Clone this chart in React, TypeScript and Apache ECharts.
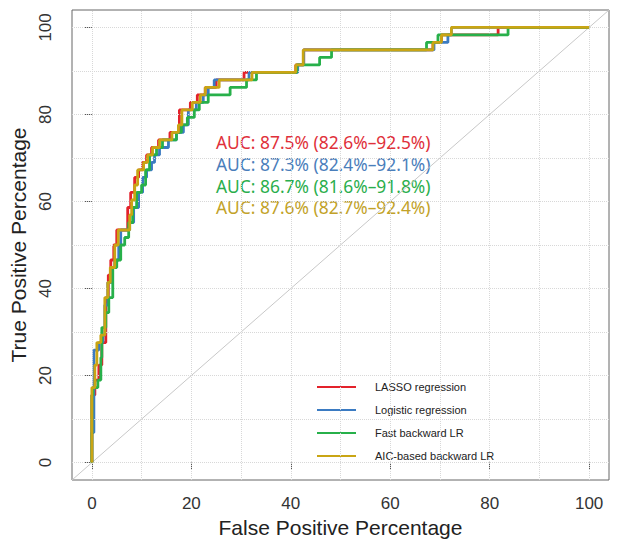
import React, { useEffect, useRef } from "react";
import * as echarts from "echarts";

const seriesNames = [
  "LASSO regression",
  "Logistic regression",
  "Fast backward LR",
  "AIC-based backward LR",
];
const seriesColors = ["#E3222B", "#3B7BC2", "#27B04A", "#C9A514"];
const aucColors = ["#E0303A", "#4A7EBB", "#2AAE4C", "#C2A228"];

const aucLabels = [
  "AUC: 87.5% (82.6%–92.5%)",
  "AUC: 87.3% (82.4%–92.1%)",
  "AUC: 86.7% (81.6%–91.8%)",
  "AUC: 87.6% (82.7%–92.4%)",
];

const lassoROC = [
  [0, 0], [0, 15.52], [0.6, 15.52], [0.6, 18.97], [1.4, 18.97], [1.4, 22.41], [2.0, 22.41],
  [2.0, 27.59], [2.8, 27.59], [2.8, 37.93], [3.3, 37.93], [3.3, 43.1], [3.8, 43.1], [3.8, 46.55],
  [4.4, 46.55], [4.4, 50.0], [5.0, 50.0], [5.0, 53.45], [7.2, 53.45], [7.2, 58.62], [7.8, 58.62],
  [7.8, 62.07], [8.6, 62.07], [8.6, 65.52], [9.4, 65.52], [9.4, 67.24], [10.2, 67.24], [10.2, 68.97],
  [11.0, 68.97], [11.0, 70.69], [12.0, 70.69], [12.0, 72.41], [13.4, 72.41], [13.4, 74.14],
  [15.7, 74.14], [15.7, 75.86], [17.6, 75.86], [17.6, 81.03], [19.8, 81.03], [19.8, 82.76],
  [21.2, 82.76], [21.2, 84.48], [22.8, 84.48], [22.8, 86.21], [25.0, 86.21], [25.0, 87.93],
  [30.6, 87.93], [30.6, 89.66], [41.0, 89.66], [41.0, 91.38], [42.6, 91.38], [42.6, 94.83],
  [68.6, 94.83], [68.6, 96.55], [70.3, 96.55], [70.3, 98.28], [81.7, 98.28], [81.7, 100], [100, 100],
];

const logisticROC = [
  [0, 0], [0, 6.9], [0.4, 6.9], [0.4, 25.86], [1.4, 25.86], [1.4, 27.59], [2.2, 27.59], [2.2, 29.31],
  [2.6, 29.31], [2.6, 36.21], [3.2, 36.21], [3.2, 41.38], [3.9, 41.38], [3.9, 44.83], [4.6, 44.83],
  [4.6, 46.55], [5.4, 46.55], [5.4, 50.0], [5.8, 50.0], [5.8, 53.45], [7.6, 53.45], [7.6, 55.17],
  [8.4, 55.17], [8.4, 58.62], [9.4, 58.62], [9.4, 62.07], [10.2, 62.07], [10.2, 65.52], [11.0, 65.52],
  [11.0, 67.24], [12.0, 67.24], [12.0, 68.97], [12.6, 68.97], [12.6, 70.69], [13.6, 70.69],
  [13.6, 72.41], [15.4, 72.41], [15.4, 74.14], [17.0, 74.14], [17.0, 75.86], [18.4, 75.86],
  [18.4, 77.59], [19.4, 77.59], [19.4, 81.03], [21.0, 81.03], [21.0, 82.76], [22.4, 82.76],
  [22.4, 84.48], [23.4, 84.48], [23.4, 86.21], [24.6, 86.21], [24.6, 87.93], [31.6, 87.93],
  [31.6, 89.66], [41.4, 89.66], [41.4, 91.38], [42.6, 91.38], [42.6, 94.83], [68.8, 94.83],
  [68.8, 96.55], [71.6, 96.55], [71.6, 98.28], [72.3, 98.28], [72.3, 100], [100, 100],
];

const fastBackwardROC = [
  [0, 0], [0, 15.52], [0.2, 15.52], [0.2, 17.24], [1.2, 17.24], [1.2, 18.97], [1.8, 18.97],
  [1.8, 24.14], [2.0, 24.14], [2.0, 31.03], [2.8, 31.03], [2.8, 34.48], [3.4, 34.48], [3.4, 37.93],
  [4.2, 37.93], [4.2, 44.83], [5.0, 44.83], [5.0, 46.55], [5.8, 46.55], [5.8, 50.0], [6.6, 50.0],
  [6.6, 51.72], [7.4, 51.72], [7.4, 55.17], [8.2, 55.17], [8.2, 58.62], [9.0, 58.62], [9.0, 62.07],
  [10.0, 62.07], [10.0, 63.79], [10.8, 63.79], [10.8, 67.24], [11.6, 67.24], [11.6, 70.69],
  [13.0, 70.69], [13.0, 72.41], [14.2, 72.41], [14.2, 74.14], [17.0, 74.14], [17.0, 75.86],
  [18.0, 75.86], [18.0, 77.59], [19.2, 77.59], [19.2, 79.31], [20.6, 79.31], [20.6, 81.03],
  [21.6, 81.03], [21.6, 82.76], [23.4, 82.76], [23.4, 84.48], [27.8, 84.48], [27.8, 86.21],
  [31.1, 86.21], [31.1, 87.93], [33.1, 87.93], [33.1, 89.66], [41.2, 89.66], [41.2, 91.38],
  [45.8, 91.38], [45.8, 93.1], [48.2, 93.1], [48.2, 94.83], [67.3, 94.83], [67.3, 96.55],
  [69.6, 96.55], [69.6, 98.28], [83.7, 98.28], [83.7, 100], [100, 100],
];

const aicBackwardROC = [
  [0, 0], [0, 17.24], [0.6, 17.24], [0.6, 22.41], [1.0, 22.41], [1.0, 27.59], [1.8, 27.59],
  [1.8, 29.31], [2.6, 29.31], [2.6, 37.93], [3.2, 37.93], [3.2, 41.38], [3.7, 41.38], [3.7, 44.83],
  [4.6, 44.83], [4.6, 50.0], [5.3, 50.0], [5.3, 53.45], [7.6, 53.45], [7.6, 56.9], [8.0, 56.9],
  [8.0, 60.34], [8.6, 60.34], [8.6, 63.79], [9.2, 63.79], [9.2, 67.24], [10.4, 67.24], [10.4, 68.97],
  [11.2, 68.97], [11.2, 70.69], [12.2, 70.69], [12.2, 72.41], [13.6, 72.41], [13.6, 74.14],
  [16.1, 74.14], [16.1, 75.86], [17.4, 75.86], [17.4, 77.59], [18.1, 77.59], [18.1, 81.03],
  [20.2, 81.03], [20.2, 82.76], [21.8, 82.76], [21.8, 84.48], [22.8, 84.48], [22.8, 86.21],
  [25.6, 86.21], [25.6, 87.93], [32.2, 87.93], [32.2, 89.66], [41.0, 89.66], [41.0, 91.38],
  [42.5, 91.38], [42.5, 94.83], [68.6, 94.83], [68.6, 96.55], [70.3, 96.55], [70.3, 98.28],
  [72.3, 98.28], [72.3, 100], [100, 100],
];

const rocData = [lassoROC, logisticROC, fastBackwardROC, aicBackwardROC];
const diagonal = [[-4, -4], [104, 104]];
const tickValues = [0, 20, 40, 60, 80, 100];
const gridValues = [0, 10, 20, 30, 40, 50, 60, 70, 80, 90, 100];

export default function App() {
  const ref = useRef<HTMLDivElement>(null);
  useEffect(() => {
    if (!ref.current) return;
    const chart = echarts.init(ref.current, undefined, { renderer: "svg" });
    const axisFont = "Liberation Sans";
    const baseAxis = (name: string, isY: boolean) => ({
      type: "value",
      min: -4,
      max: 104,
      axisLine: { show: false },
      axisTick: {
        show: true,
        customValues: tickValues,
        length: 7,
        lineStyle: { color: "#555", width: 1 },
      },
      axisLabel: {
        customValues: tickValues,
        fontSize: 17,
        color: "#333",
        fontFamily: axisFont,
        margin: isY ? 18 : 15,
        rotate: isY ? 90 : 0,
      },
      splitLine: { show: false },
      name,
      nameLocation: "middle",
      nameGap: isY ? 41 : 32,
      nameTextStyle: { fontSize: 21, color: "#222", fontFamily: axisFont },
    });
    chart.setOption({
      animation: false,
      backgroundColor: "#fff",
      grid: {
        left: 72,
        right: 9,
        top: 10,
        bottom: 64,
        show: true,
        borderColor: "#666",
        borderWidth: 1,
      },
      xAxis: baseAxis("False Positive Percentage", false),
      yAxis: baseAxis("True Positive Percentage", true),
      legend: {
        orient: "vertical",
        left: 317,
        top: 380,
        padding: 0,
        icon: "rect",
        itemWidth: 39,
        itemHeight: 2,
        itemGap: 9,
        selectedMode: false,
        data: seriesNames,
        textStyle: {
          fontSize: 11,
          lineHeight: 14,
          color: "#222",
          fontFamily: axisFont,
          padding: [0, 0, 0, 14],
        },
      },
      graphic: aucLabels.map((t, i) => ({
        type: "text",
        x: 216,
        y: 142 + i * 21.8,
        style: {
          text: t,
          fill: aucColors[i],
          fontSize: 17.4,
          fontFamily: "Noto Sans",
          verticalAlign: "middle",
        },
      })),
      series: [
        {
          type: "line",
          name: "diagonal",
          data: diagonal,
          symbol: "none",
          silent: true,
          z: 1,
          lineStyle: { color: "#C8C8C8", width: 1 },
          markLine: {
            silent: true,
            symbol: ["none", "none"],
            label: { show: false },
            lineStyle: { type: "dotted", color: "#D8D8D8", width: 1 },
            data: [
              ...gridValues.map((v) => ({ xAxis: v })),
              ...gridValues.map((v) => ({ yAxis: v })),
            ],
          },
        },
        ...rocData.map((d, i) => ({
          type: "line",
          name: seriesNames[i],
          data: d,
          symbol: "none",
          z: 3 + i,
          color: seriesColors[i],
          lineStyle: { color: seriesColors[i], width: 2.8 },
        })),
      ],
    });
    return () => chart.dispose();
  }, []);
  return (
    <div
      ref={ref}
      style={{ position: "fixed", left: 0, top: 0, width: 618, height: 544 }}
    />
  );
}
